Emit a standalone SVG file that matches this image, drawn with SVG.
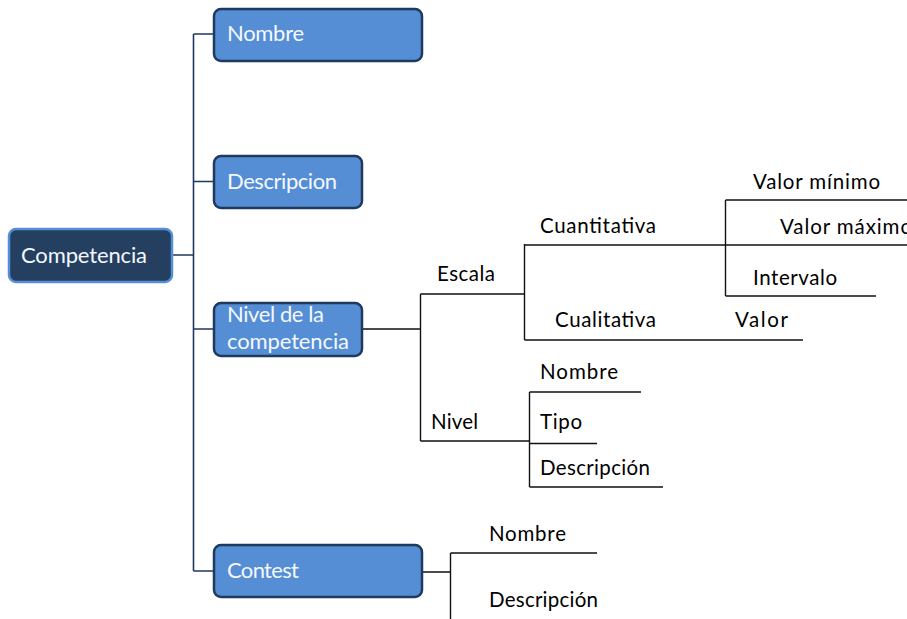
<svg xmlns="http://www.w3.org/2000/svg" width="907" height="619" viewBox="0 0 907 619">
  <style>
    .box { fill: #558ed5; stroke: #1f3a5f; stroke-width: 2.5; }
    .root { fill: #243f60; stroke: #558ed5; stroke-width: 2.5; }
    .btxt { font-family: Lato, "Open Sans", sans-serif; font-size: 22px; fill: #f4f8fd; }
    .txt { font-family: Lato, "Open Sans", sans-serif; font-size: 20.5px; fill: #000; }
    .trunk { stroke: #1f3a5f; stroke-width: 1.6; fill: none; }
    .tree { stroke: #111; stroke-width: 1.4; fill: none; }
  </style>

  <!-- connectors -->
  <g id="connectors">
    <path class="trunk" d="M193.5 34 V571 M193.5 34 H214 M193.5 181.5 H214 M193.5 329 H214 M193.5 571 H214 M172 255 H193.5"/>
    <!-- Nivel de la competencia subtree -->
    <path class="tree" d="M362 329 H420.5 M420.5 294 V441 M420.5 294 H524.5 M420.5 441 H529.5"/>
    <path class="tree" d="M524.5 244 V340 M524.5 245 H907 M524.5 340 H803"/>
    <path class="tree" d="M725.5 200 V296 M725.5 200 H907 M725.5 296 H876"/>
    <path class="tree" d="M529.5 392 V487 M529.5 392 H641 M529.5 443.5 H597 M529.5 487 H663"/>
    <!-- Contest subtree -->
    <path class="tree" d="M422 572 H450.5 M450.5 553 V619 M450.5 553 H597"/>
  </g>

  <!-- main nodes -->
  <g id="competencia">
    <rect class="root" x="9" y="229" width="163" height="53" rx="7"/>
    <text class="btxt" x="21" y="263" textLength="126" lengthAdjust="spacing">Competencia</text>
  </g>
  <g id="nombre">
    <rect class="box" x="214" y="9" width="208" height="52" rx="7"/>
    <text class="btxt" x="227" y="41" textLength="77" lengthAdjust="spacing">Nombre</text>
  </g>
  <g id="descripcion">
    <rect class="box" x="214" y="156" width="148" height="52" rx="7"/>
    <text class="btxt" x="227" y="189" textLength="110" lengthAdjust="spacing">Descripcion</text>
  </g>
  <g id="nivel-competencia">
    <rect class="box" x="214" y="303" width="148" height="53" rx="7"/>
    <text class="btxt" x="227" y="322" textLength="97" lengthAdjust="spacing">Nivel de la</text>
    <text class="btxt" x="227" y="349" textLength="122" lengthAdjust="spacing">competencia</text>
  </g>
  <g id="contest">
    <rect class="box" x="214" y="545" width="208" height="52" rx="7"/>
    <text class="btxt" x="227" y="578" textLength="72" lengthAdjust="spacing">Contest</text>
  </g>

  <!-- sub-items -->
  <g id="escala"><text class="txt" x="437" y="281" textLength="58" lengthAdjust="spacing">Escala</text></g>
  <g id="cuantitativa"><text class="txt" x="540" y="233" textLength="116" lengthAdjust="spacing">Cuantitativa</text></g>
  <g id="valor-minimo"><text class="txt" x="753" y="189" textLength="127" lengthAdjust="spacing">Valor mínimo</text></g>
  <g id="valor-maximo"><text class="txt" x="780" y="234" textLength="132" lengthAdjust="spacing">Valor máximo</text></g>
  <g id="intervalo"><text class="txt" x="753" y="285" textLength="84" lengthAdjust="spacing">Intervalo</text></g>
  <g id="cualitativa"><text class="txt" x="555" y="327" textLength="101" lengthAdjust="spacing">Cualitativa</text></g>
  <g id="valor"><text class="txt" x="735" y="327" textLength="53" lengthAdjust="spacing">Valor</text></g>
  <g id="nivel"><text class="txt" x="431" y="429" textLength="47" lengthAdjust="spacing">Nivel</text></g>
  <g id="nivel-nombre"><text class="txt" x="540" y="379" textLength="78" lengthAdjust="spacing">Nombre</text></g>
  <g id="nivel-tipo"><text class="txt" x="540" y="429" textLength="42" lengthAdjust="spacing">Tipo</text></g>
  <g id="nivel-descripcion"><text class="txt" x="540" y="475" textLength="110" lengthAdjust="spacing">Descripción</text></g>
  <g id="contest-nombre"><text class="txt" x="489" y="541" textLength="77" lengthAdjust="spacing">Nombre</text></g>
  <g id="contest-descripcion"><text class="txt" x="489" y="607" textLength="109" lengthAdjust="spacing">Descripción</text></g>
</svg>
